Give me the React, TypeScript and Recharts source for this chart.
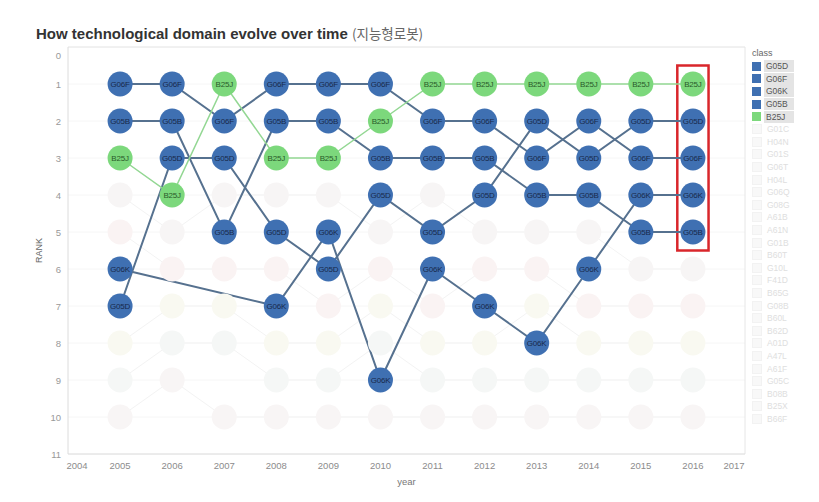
import {
  LineChart,
  Line,
  XAxis,
  YAxis,
  CartesianGrid,
  ReferenceArea,
  ReferenceLine,
} from "recharts";

const YEARS = [2005, 2006, 2007, 2008, 2009, 2010, 2011, 2012, 2013, 2014, 2015, 2016];
const X_TICKS = [2004, 2005, 2006, 2007, 2008, 2009, 2010, 2011, 2012, 2013, 2014, 2015, 2016, 2017];
const RANK_TICKS = [0, 1, 2, 3, 4, 5, 6, 7, 8, 9, 10, 11];

// rank of each highlighted class per year (null = not in chart that year)
const G06F = [1, 1, 2, 1, 1, 1, 2, 2, 3, 2, 3, 3];
const G05B = [2, 2, 5, 2, 2, 3, 3, 3, 4, 4, 5, 5];
const G05D = [7, 3, 3, 5, 6, 4, 5, 4, 2, 3, 2, 2];
const G06K = [6, null, null, 7, 5, 9, 6, 7, 8, 6, 4, 4];
const B25J = [3, 4, 1, 3, 3, 2, 1, 1, 1, 1, 1, 1];

// faded (not selected) classes
const G01C = [4, 5, 4, 4, 4, 5, 4, 5, 5, 5, 6, 6];
const H04N = [5, 6, 6, 6, 7, 6, 7, 6, 6, 7, 7, 7];
const G01S = [8, 7, 7, 8, 8, 7, 8, 8, 7, 8, 8, 8];
const G06T = [9, 8, 8, 9, 9, 8, 9, 9, 9, 9, 9, 9];
const H04L = [10, 9, 10, 10, 10, 10, 10, 10, 10, 10, 10, 10];

const LEGEND_MAIN = ["G05D", "G06F", "G06K", "G05B", "B25J"];
const LEGEND_FADED = [
  "G01C", "H04N", "G01S", "G06T", "H04L", "G06Q", "G08G", "A61B", "A61N", "G01B",
  "B60T", "G10L", "F41D", "B65G", "G08B", "B60L", "B62D", "A01D", "A47L", "A61F",
  "G05C", "B08B", "B25X", "B66F",
];

const BLUE = "#3f70b2";
const GREEN = "#7cd87c";
const BLUE_LINE = "#56718f";
const GREEN_LINE = "#93d793";

const MAIN = [
  { key: "G05D", fill: BLUE, line: BLUE_LINE, text: "#18294a", width: 2 },
  { key: "G06F", fill: BLUE, line: BLUE_LINE, text: "#18294a", width: 2 },
  { key: "G06K", fill: BLUE, line: BLUE_LINE, text: "#18294a", width: 2 },
  { key: "G05B", fill: BLUE, line: BLUE_LINE, text: "#18294a", width: 2 },
  { key: "B25J", fill: GREEN, line: GREEN_LINE, text: "#2a5a2a", width: 1.5 },
];

const GHOSTS = [
  { key: "G01C", fill: "#f7f5f5" },
  { key: "H04N", fill: "#faf3f3" },
  { key: "G01S", fill: "#f9f9f1" },
  { key: "G06T", fill: "#f5f7f6" },
  { key: "H04L", fill: "#f8f5f5" },
];

const data = YEARS.map((year, i) => ({
  year,
  G06F: G06F[i],
  G05B: G05B[i],
  G05D: G05D[i],
  G06K: G06K[i],
  B25J: B25J[i],
  G01C: G01C[i],
  H04N: H04N[i],
  G01S: G01S[i],
  G06T: G06T[i],
  H04L: H04L[i],
}));

const FONT = "'Liberation Sans', Arial, sans-serif";

const XTick = ({ x, y, payload }: any) => {
  const v = payload.value;
  const shift = v === 2004 ? 9 : v === 2017 ? -11 : 0;
  return (
    <text x={x + shift} y={y + 7} textAnchor="middle" fontSize={9.5} fill="#8c8c8c" fontFamily={FONT}>
      {v}
    </text>
  );
};

const YTick = ({ x, y, payload }: any) => {
  const v = payload.value;
  return (
    <text x={x + 1} y={y + 3.5 + (v === 0 ? 8 : 0)} textAnchor="end" fontSize={9.5} fill="#999" fontFamily={FONT}>
      {v}
    </text>
  );
};

const makeDot = (name: string, fill: string, textColor: string) => (props: any) => {
  const { cx, cy, value, index } = props;
  if (value == null || cx == null || cy == null) return <g key={`${name}-${index}`} />;
  return (
    <g key={`${name}-${index}`}>
      <circle cx={cx} cy={cy} r={12.5} fill={fill} />
      <text
        x={cx}
        y={cy + 3}
        textAnchor="middle"
        fontSize={8}
        fontFamily={FONT}
        fill={textColor}
        letterSpacing={-0.2}
      >
        {name}
      </text>
    </g>
  );
};

const makeGhostDot = (name: string, fill: string) => (props: any) => {
  const { cx, cy, value, index } = props;
  if (value == null || cx == null || cy == null) return <g key={`${name}-${index}`} />;
  return <circle key={`${name}-${index}`} cx={cx} cy={cy} r={12.5} fill={fill} />;
};

const Legend = () => (
  <div style={{ position: "absolute", left: 752, top: 47, fontFamily: FONT, fontSize: 8.5, color: "#555" }}>
    <div style={{ height: 13, lineHeight: "13px", color: "#666", fontSize: 9 }}>class</div>
    {LEGEND_MAIN.map((c) => (
      <div key={c} style={{ display: "flex", alignItems: "center", height: 12.6 }}>
        <div style={{ width: 9, height: 9, background: c === "B25J" ? GREEN : BLUE, marginRight: 3 }} />
        <div style={{ background: "#e4e4e4", width: 28, paddingLeft: 2, lineHeight: "12px" }}>{c}</div>
      </div>
    ))}
    {LEGEND_FADED.map((c) => (
      <div key={c} style={{ display: "flex", alignItems: "center", height: 12.6, color: "#dedede" }}>
        <div style={{ width: 8, height: 8, border: "1px solid #f2f2f2", background: "#f8f8f8", marginRight: 3 }} />
        <div style={{ paddingLeft: 2 }}>{c}</div>
      </div>
    ))}
  </div>
);

export default function App() {
  return (
    <div style={{ position: "absolute", left: 0, top: 0, width: 819, height: 502, background: "#fff", fontFamily: FONT }}>
      <div style={{ position: "absolute", left: 36, top: 23, fontSize: 15, color: "#333", whiteSpace: "nowrap" }}>
        <span style={{ fontWeight: "bold" }}>How technological domain evolve over time </span>
        <span style={{ color: "#666", fontFamily: "'Noto Sans CJK KR', sans-serif", fontSize: 13.5 }}>(지능형로봇)</span>
      </div>
      <LineChart width={819} height={502} data={data} margin={{ top: 47, right: 74, bottom: 14, left: 0 }}>
        <CartesianGrid horizontal vertical={false} stroke="#f6f6f6" />
        <XAxis
          dataKey="year"
          type="number"
          domain={[2004, 2017]}
          ticks={X_TICKS}
          tick={<XTick />}
          tickLine={false}
          axisLine={{ stroke: "#dcdcdc" }}
          height={34}
          label={{ value: "year", position: "insideBottom", offset: 3, fontSize: 9.5, fill: "#777" }}
        />
        <YAxis
          type="number"
          reversed
          domain={[0, 11]}
          ticks={RANK_TICKS}
          tick={<YTick />}
          tickLine={false}
          axisLine={{ stroke: "#dcdcdc" }}
          width={68}
          label={{
            content: ({ viewBox }: any) => (
              <text
                x={viewBox.x + 42}
                y={viewBox.y + viewBox.height / 2}
                transform={`rotate(-90 ${viewBox.x + 42} ${viewBox.y + viewBox.height / 2})`}
                textAnchor="middle"
                fontSize={9}
                fill="#666"
                fontFamily={FONT}
              >
                RANK
              </text>
            ),
          }}
        />
        <ReferenceLine y={0} stroke="#e6e6e6" />
        <ReferenceLine x={2017} stroke="#e6e6e6" />
        {GHOSTS.map((g) => (
          <Line
            key={`ghost-${g.key}`}
            dataKey={g.key}
            stroke="#f3f3f3"
            strokeWidth={1}
            dot={makeGhostDot(g.key, g.fill)}
            activeDot={false}
            isAnimationActive={false}
          />
        ))}
        {MAIN.map((s) => (
          <Line
            key={`line-${s.key}`}
            dataKey={s.key}
            stroke={s.line}
            strokeWidth={s.width}
            dot={false}
            activeDot={false}
            connectNulls
            isAnimationActive={false}
          />
        ))}
        {MAIN.map((s) => (
          <Line
            key={`dots-${s.key}`}
            dataKey={s.key}
            stroke="none"
            dot={makeDot(s.key, s.fill, s.text)}
            activeDot={false}
            isAnimationActive={false}
          />
        ))}
        <ReferenceArea x1={2015.7} x2={2016.3} y1={0.5} y2={5.5} fill="none" stroke="#d9262b" strokeWidth={2.5} ifOverflow="visible" />
      </LineChart>
      <Legend />
    </div>
  );
}
